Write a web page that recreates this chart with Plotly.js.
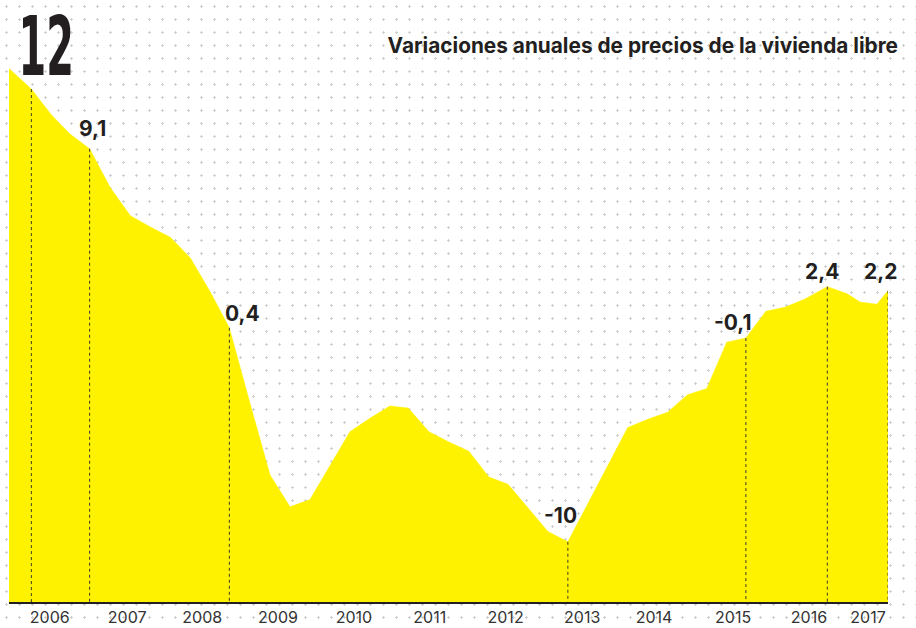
<!DOCTYPE html>
<html>
<head>
<meta charset="utf-8">
<script src="https://cdn.plot.ly/plotly-3.0.1.min.js"></script>
<style>
html,body{margin:0;padding:0;}
body{width:916px;height:628px;overflow:hidden;background-color:#ffffff;
background-image:url("data:image/svg+xml;utf8,<svg xmlns='http://www.w3.org/2000/svg' width='13' height='13'><path d='M6.5 5v3M5 6.5h3' stroke='%23cfcfcf' stroke-width='1'/></svg>");}
#chart{width:916px;height:628px;}
</style>
</head>
<body>
<div id="chart"></div>
<script>
// Periodo (posición temporal en años decimales, trimestral)
const periodo = [2006.00, 2006.28, 2006.53, 2006.76, 2007.01, 2007.27, 2007.52, 2007.77,
  2008.02, 2008.27, 2008.52, 2008.76, 2009.01, 2009.27, 2009.52, 2009.77,
  2010.02, 2010.27, 2010.52, 2010.77, 2011.00, 2011.26, 2011.51, 2011.76,
  2012.01, 2012.25, 2012.50, 2012.75, 2013.00, 2013.25, 2013.50, 2013.75,
  2014.00, 2014.25, 2014.50, 2014.74, 2014.99, 2015.23, 2015.48, 2015.72,
  2015.97, 2016.25, 2016.50, 2016.66, 2016.87, 2017.01];
// Variación anual del precio de la vivienda libre (%)
const variacion = [13.0, 12, 10.75, 9.83, 9.1, 7.2, 5.85, 5.3,
  4.8, 3.8, 2.15, 0.4, -3.15, -6.75, -8.3, -7.95,
  -6.3, -4.65, -4.0, -3.4, -3.5, -4.65, -5.15, -5.6,
  -6.85, -7.2, -8.35, -9.5, -10, -8.15, -6.3, -4.45,
  -4.05, -3.7, -2.85, -2.55, -0.3, -0.1, 1.2, 1.4,
  1.8, 2.4, 2.05, 1.65, 1.55, 2.2];
// Puntos destacados (índices)
const destacados = [1, 4, 11, 28, 37, 41, 45];
// Etiquetas del eje X
const anios = ['2006','2007','2008','2009','2010','2011','2012','2013','2014','2015','2016','2017'];
const aniosPos = [2006.51, 2007.48, 2008.42, 2009.37, 2010.32, 2011.27, 2012.22, 2013.18, 2014.08, 2015.07, 2016.02, 2016.76];

// --- estilos ---
const yRange = [-12.925, 14.385];
const xRange = [2006.0, 2017.01];
const labelShift = [[15, -7], [3, 6], [13, 0], [-7, 12], [-13, 1], [-5, 1], [-8, 5]];
const labelSize = [82, 21, 21, 21, 21, 21, 21];

function fmt(v) {
  return Number.isInteger(v) ? String(v) : v.toFixed(1).replace('.', ',');
}

const base = {
  x: periodo, y: periodo.map(() => yRange[0]),
  mode: 'lines', line: {width: 0, color: 'rgba(0,0,0,0)'},
  hoverinfo: 'skip', showlegend: false
};
const area = {
  x: periodo, y: variacion, mode: 'lines', fill: 'tonexty',
  fillcolor: '#fff200', line: {width: 0.5, color: '#fff200'},
  showlegend: false
};
const vx = [], vy = [];
destacados.forEach(i => { vx.push(periodo[i], periodo[i], null); vy.push(variacion[i], yRange[0], null); });
const guias = {
  x: vx, y: vy, mode: 'lines',
  line: {color: '#3a3a2a', width: 1, dash: 'dot'},
  hoverinfo: 'skip', showlegend: false
};

const annotations = destacados.map((i, k) => ({
  x: periodo[i], y: variacion[i], xref: 'x', yref: 'y',
  text: fmt(variacion[i]), showarrow: false,
  xanchor: 'center', yanchor: 'bottom',
  xshift: labelShift[k][0], yshift: labelShift[k][1],
  font: k === 0
    ? {family: '"Liberation Sans Narrow", "DejaVu Sans Condensed", Arial, sans-serif', size: labelSize[k], color: '#231f20', weight: 700}
    : {family: 'Inter, "Noto Sans", sans-serif', size: labelSize[k], color: '#231f20', weight: 700}
}));

const layout = {
  width: 916, height: 628,
  margin: {l: 9, r: 28, t: 40, b: 26},
  paper_bgcolor: 'rgba(0,0,0,0)', plot_bgcolor: 'rgba(0,0,0,0)',
  title: {
    text: 'Variaciones anuales de precios de la vivienda libre',
    font: {family: 'Inter, "Noto Sans", sans-serif', size: 20.8, color: '#231f20', weight: 700},
    xref: 'container', yref: 'container', x: 898/916, xanchor: 'right', y: 1 - 46/628, yanchor: 'middle'
  },
  xaxis: {
    range: xRange, showgrid: false, zeroline: false,
    showline: true, linecolor: '#231f20', linewidth: 1.5,
    tickmode: 'array', tickvals: aniosPos, ticktext: anios, ticks: '',
    tickfont: {family: 'Inter, "Noto Sans", sans-serif', size: 16, color: '#333333'},
    fixedrange: true
  },
  yaxis: {
    range: yRange, showgrid: false, zeroline: false, showline: false,
    showticklabels: false, ticks: '', fixedrange: true
  },
  annotations: annotations,
  showlegend: false
};

Plotly.newPlot('chart', [base, area, guias], layout, {displayModeBar: false, staticPlot: true}).then(gd => {
  gd.querySelectorAll('.annotation-text').forEach(el => {
    if (el.textContent === fmt(variacion[destacados[0]])) {
      el.style.transformBox = 'fill-box';
      el.style.transformOrigin = 'center';
      el.style.transform = 'scaleX(0.54)';
    }
  });
});
</script>
</body>
</html>
